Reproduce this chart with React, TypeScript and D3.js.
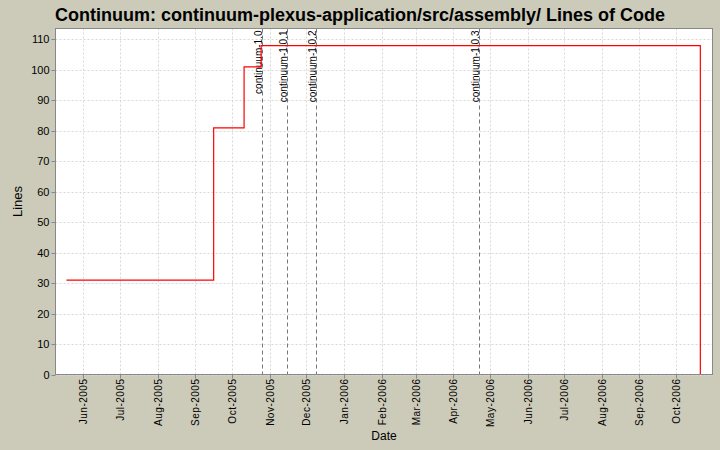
import { useEffect, useRef } from "react";
import * as d3 from "d3";

const parse = d3.utcParse("%Y-%m-%d");

// step series: date the value changed, lines of code
const locDates = ["2005-05-18", "2005-09-16", "2005-10-11", "2005-10-25", "2006-10-21"];
const locValues = [31, 81, 101, 108, 0];

// release markers
const releaseNames = ["continuum-1.0", "continuum-1.0.1", "continuum-1.0.2", "continuum-1.0.3"];
const releaseDates = ["2005-10-26", "2005-11-15", "2005-12-09", "2006-04-22"];

const yTicks = [0, 10, 20, 30, 40, 50, 60, 70, 80, 90, 100, 110];

export default function App() {
  const svgRef = useRef<SVGSVGElement>(null);

  useEffect(() => {
    if (!svgRef.current) return;
    const svg = d3.select(svgRef.current);
    svg.selectAll("*").remove();

    const width = 720;
    const height = 450;
    const left = 55.5;
    const right = 712.5;
    const top = 28.5;
    const bottom = 374.5;
    const font = "Liberation Sans, Arial, sans-serif";

    svg.append("rect").attr("width", width).attr("height", height).attr("fill", "#cccbb9");

    // title
    svg
      .append("text")
      .attr("x", 360)
      .attr("y", 21)
      .attr("text-anchor", "middle")
      .attr("font-family", font)
      .attr("font-weight", "bold")
      .attr("font-size", 18)
      .attr("fill", "#000")
      .text("Continuum: continuum-plexus-application/src/assembly/ Lines of Code");

    const x = d3
      .scaleUtc()
      .domain([parse("2005-05-09")!, parse("2006-10-31")!])
      .range([left, right]);
    const y = d3.scaleLinear().domain([0, 113.6]).range([bottom, top]);

    // plot background
    svg
      .append("rect")
      .attr("x", left)
      .attr("y", top)
      .attr("width", right - left)
      .attr("height", bottom - top)
      .attr("fill", "#fff");

    const months = x.ticks(d3.utcMonth.every(1)!);

    const grid = svg.append("g").attr("stroke", "#d8d8d8").attr("stroke-dasharray", "2,2");
    yTicks.forEach((t) => {
      grid
        .append("line")
        .attr("x1", left)
        .attr("x2", right)
        .attr("y1", Math.round(y(t)) + 0.5)
        .attr("y2", Math.round(y(t)) + 0.5);
    });
    months.forEach((m) => {
      grid
        .append("line")
        .attr("x1", Math.round(x(m)) + 0.5)
        .attr("x2", Math.round(x(m)) + 0.5)
        .attr("y1", top)
        .attr("y2", bottom);
    });

    // release markers
    releaseNames.forEach((name, i) => {
      const rx = Math.round(x(parse(releaseDates[i])!)) + 0.5;
      svg
        .append("line")
        .attr("x1", rx)
        .attr("x2", rx)
        .attr("y1", top)
        .attr("y2", bottom)
        .attr("stroke", "#777")
        .attr("stroke-dasharray", "4,3");
      svg
        .append("text")
        .attr("transform", `translate(${rx - 1},${top + 2}) rotate(-90)`)
        .attr("text-anchor", "end")
        .attr("font-family", font)
        .attr("font-size", 10)
        .attr("fill", "#000")
        .text(name);
    });

    // step line
    const pts = locDates.map((d, i) => [x(parse(d)!), y(locValues[i])] as [number, number]);
    svg
      .append("path")
      .attr("d", d3.line().curve(d3.curveStepAfter)(pts))
      .attr("fill", "none")
      .attr("stroke", "#ff0000")
      .attr("stroke-width", 1.2);

    // plot border
    svg
      .append("rect")
      .attr("x", left)
      .attr("y", top)
      .attr("width", right - left)
      .attr("height", bottom - top)
      .attr("fill", "none")
      .attr("stroke", "#888");

    // y axis
    const yAxis = svg.append("g").attr("font-family", font).attr("font-size", 11);
    yTicks.forEach((t) => {
      const ty = Math.round(y(t)) + 0.5;
      yAxis.append("line").attr("x1", left - 4).attr("x2", left).attr("y1", ty).attr("y2", ty).attr("stroke", "#888");
      yAxis
        .append("text")
        .attr("x", left - 6)
        .attr("y", ty)
        .attr("dy", "0.35em")
        .attr("text-anchor", "end")
        .attr("fill", "#000")
        .text(t);
    });

    // x axis
    const fmt = d3.utcFormat("%b-%Y");
    const xAxis = svg.append("g").attr("font-family", font).attr("font-size", 10);
    months.forEach((m) => {
      const tx = Math.round(x(m)) + 0.5;
      xAxis.append("line").attr("x1", tx).attr("x2", tx).attr("y1", bottom).attr("y2", bottom + 4).attr("stroke", "#888");
      xAxis
        .append("text")
        .attr("transform", `translate(${tx},${bottom + 4}) rotate(-90)`)
        .attr("dy", "0.35em")
        .attr("text-anchor", "end")
        .attr("letter-spacing", 0.5)
        .attr("fill", "#000")
        .text(fmt(m));
    });

    // axis titles
    svg
      .append("text")
      .attr("x", (left + right) / 2)
      .attr("y", 440)
      .attr("text-anchor", "middle")
      .attr("font-family", font)
      .attr("font-size", 12)
      .attr("fill", "#000")
      .text("Date");
    svg
      .append("text")
      .attr("transform", `translate(22,${(top + bottom) / 2}) rotate(-90)`)
      .attr("text-anchor", "middle")
      .attr("font-family", font)
      .attr("font-size", 13)
      .attr("fill", "#000")
      .text("Lines");
  }, []);

  return (
    <svg
      ref={svgRef}
      width={720}
      height={450}
      style={{ position: "absolute", left: 0, top: 0, display: "block" }}
    />
  );
}
